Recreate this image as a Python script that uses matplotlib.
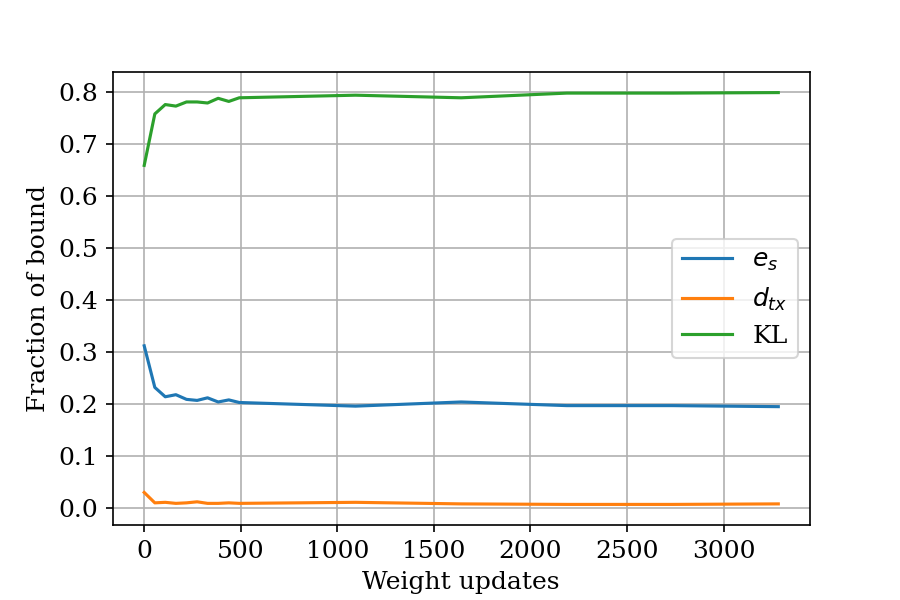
import numpy as np
from matplotlib import pyplot as plt

plt.rcParams['font.family'] = 'serif'
plt.rcParams['font.serif'] = ['DejaVu Serif']
plt.rcParams['font.size'] = 12

# weight update steps
steps = [0, 55, 109, 164, 219, 274, 328, 383, 438, 492, 1094, 1641, 2188, 2735, 3283]

# fraction of bound per term
e_s = [0.312, 0.232, 0.214, 0.218, 0.209, 0.207, 0.212, 0.204, 0.208, 0.203,
       0.196, 0.204, 0.197, 0.197, 0.195]
d_tx = [0.030, 0.010, 0.011, 0.009, 0.010, 0.012, 0.009, 0.009, 0.010, 0.009,
        0.011, 0.008, 0.007, 0.007, 0.008]
kl = [0.659, 0.758, 0.776, 0.773, 0.781, 0.781, 0.779, 0.788, 0.782, 0.789,
      0.794, 0.789, 0.798, 0.798, 0.799]

fig, ax = plt.subplots(figsize=(6, 4), dpi=150)
fig.subplots_adjust(left=0.125, right=0.9, top=0.88, bottom=0.125)

ax.plot(steps, e_s, label='$e_s$')
ax.plot(steps, d_tx, label='$d_{tx}$')
ax.plot(steps, kl, label='KL')

ax.set_xlabel('Weight updates')
ax.set_ylabel('Fraction of bound')
ax.grid(True)
ax.legend(loc='center right')

plt.savefig('out.png')
